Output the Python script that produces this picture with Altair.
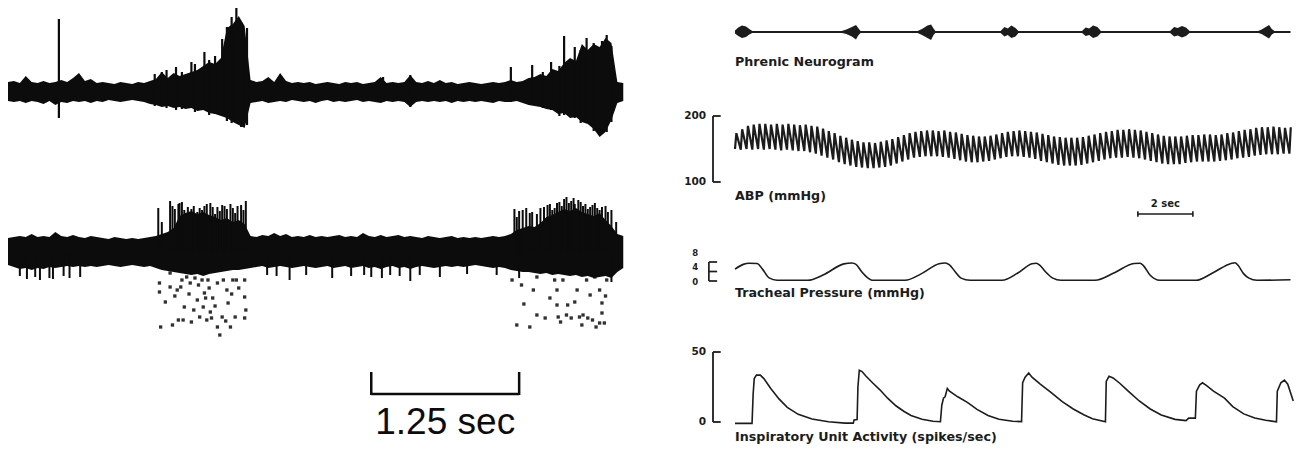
import altair as alt
import numpy as np
import pandas as pd

# ======================= DATA =======================
# ---- Left panel: two extracellular recordings (time in s, amplitude in arbitrary units)
left_step = 0.05  # sampling step of the envelopes (s)
top_upper = [1.0,1.1,0.9,1.6,1.0,0.9,1.1,0.9,1.0,1.2,
             1.0,1.4,1.9,1.1,1.3,0.9,1.0,0.9,0.8,1.0,
             0.9,0.8,1.0,0.9,1.1,1.3,2.0,1.4,1.9,1.6,
             1.8,2.0,2.2,2.6,3.0,2.8,3.4,6.4,6.8,7.6,
             6.6,1.2,1.0,1.1,1.5,1.0,1.9,1.1,0.9,1.0,
             0.9,1.0,0.8,0.9,1.0,0.9,0.8,1.0,0.9,1.0,
             0.8,0.9,1.0,1.5,0.9,1.0,0.9,1.0,1.7,1.0,
             0.9,1.1,0.9,1.2,0.9,1.0,0.8,0.9,1.0,0.9,
             0.8,0.9,1.0,0.9,1.0,1.2,1.0,1.1,1.4,1.5,
             1.8,1.6,2.3,2.1,2.9,3.4,3.1,4.8,4.2,4.8,
             4.5,5.4,4.9,1.0,0.9]
top_lower = [-0.9,-1.0,-0.9,-1.1,-0.9,-1.0,-1.2,-0.9,-1.3,-1.0,
             -1.1,-0.9,-1.0,-0.9,-1.1,-0.9,-1.0,-0.8,-0.9,-1.0,
             -0.9,-0.8,-0.9,-1.0,-1.2,-1.3,-1.5,-1.4,-1.6,-1.5,
             -1.7,-1.6,-1.9,-1.8,-2.1,-2.2,-2.4,-2.6,-3.0,-3.3,
             -3.6,-1.1,-1.0,-0.9,-1.1,-1.0,-0.9,-1.0,-0.8,-0.9,
             -1.0,-0.9,-1.1,-0.9,-0.8,-1.0,-0.9,-1.0,-0.9,-0.8,
             -1.0,-0.9,-1.0,-1.1,-0.9,-1.0,-0.9,-1.0,-1.5,-1.0,
             -0.9,-1.0,-0.9,-1.0,-0.9,-1.1,-0.9,-1.0,-0.9,-1.0,
             -0.9,-1.0,-1.1,-0.9,-1.0,-1.0,-0.9,-1.1,-1.3,-1.4,
             -1.5,-1.7,-1.8,-2.2,-2.1,-2.6,-2.5,-3.0,-3.2,-3.7,
             -4.5,-4.0,-2.8,-1.1,-0.9]
top_spike_t = [0.43,1.24,1.30,1.34,1.42,1.47,1.55,1.58,1.66,1.70,1.75,1.81,1.85,1.89,1.93,1.97,2.02,
               3.17,3.40,4.25,4.43,4.52,4.59,4.66,4.70,4.79,4.84,4.89,4.95,5.02,5.06,5.10]
top_spike_hi = [7.3,1.8,2.0,2.2,2.5,2.0,3.0,2.8,4.0,3.2,3.6,5.3,6.5,7.5,8.5,7.0,6.4,
                1.5,1.7,2.5,2.7,2.0,3.0,2.6,5.6,4.5,4.2,5.4,4.9,5.1,5.7,4.6]
top_spike_lo = [-2.6,-1.4,-1.2,-1.6,-1.8,-1.7,-1.6,-2.0,-1.8,-2.3,-2.2,-2.4,-2.9,-3.1,-3.0,-3.5,-3.3,
                -1.0,-1.5,-1.0,-1.3,-1.6,-1.8,-2.4,-2.3,-2.6,-3.1,-3.0,-3.9,-4.2,-4.0,-3.0]

bot_upper = [1.4,1.5,1.6,1.5,1.8,1.5,1.6,1.5,2.0,1.6,
             1.5,1.7,1.5,1.4,1.6,1.5,1.4,1.3,1.5,1.4,
             1.3,1.4,1.3,1.4,1.5,1.6,1.8,2.0,2.4,3.6,
             3.9,4.1,3.8,4.0,3.7,3.5,3.2,3.4,3.0,3.2,
             2.8,1.6,1.5,1.7,1.6,1.9,1.6,1.8,1.5,1.6,
             1.5,1.7,1.5,1.6,1.5,1.6,1.7,1.5,1.6,1.5,
             1.9,1.6,1.5,1.7,1.5,1.6,1.7,1.5,1.6,1.5,
             1.4,1.6,1.5,1.4,1.5,1.6,1.4,1.5,1.4,1.5,
             1.4,1.5,1.6,1.5,1.6,1.8,2.2,2.4,2.6,2.5,
             2.9,3.5,3.7,4.0,4.3,4.1,4.4,4.0,3.8,3.6,
             3.9,3.2,2.6,1.8,1.6]
bot_lower = [-1.3,-1.5,-1.7,-1.6,-1.8,-1.6,-1.7,-1.5,-1.6,-1.5,
             -1.4,-1.5,-1.4,-1.5,-1.4,-1.5,-1.4,-1.3,-1.4,-1.5,
             -1.4,-1.3,-1.4,-1.5,-1.4,-1.6,-1.8,-1.9,-2.0,-2.1,
             -2.2,-2.3,-2.2,-2.4,-2.2,-2.1,-2.0,-1.9,-1.8,-1.8,
             -1.7,-1.6,-1.5,-1.4,-1.6,-1.5,-1.4,-1.5,-1.6,-1.5,
             -1.4,-1.5,-1.6,-1.5,-1.4,-1.6,-1.5,-1.4,-1.6,-1.5,
             -1.4,-1.6,-1.5,-1.7,-1.5,-1.4,-1.6,-1.5,-1.7,-1.5,
             -1.4,-1.5,-1.6,-1.5,-1.4,-1.5,-1.4,-1.5,-1.4,-1.3,
             -1.4,-1.5,-1.6,-1.5,-1.6,-1.8,-1.9,-2.0,-2.0,-2.1,
             -2.2,-2.1,-2.3,-2.2,-2.3,-2.4,-2.3,-2.5,-2.4,-2.6,
             -2.5,-2.4,-2.6,-2.0,-1.6]
bot_burst_t = [1.27,1.30,1.37,1.39,1.41,1.44,1.45,1.47,1.49,1.52,1.55,1.57,1.60,1.62,1.64,1.66,1.68,1.71,1.73,
               1.75,1.77,1.79,1.81,1.83,1.85,1.88,1.90,1.92,1.94,1.97,1.99,2.01,
               4.28,4.30,4.32,4.35,4.38,4.41,4.43,4.47,4.50,4.53,4.56,4.58,4.60,4.62,4.64,4.66,4.68,4.70,
               4.72,4.74,4.76,4.78,4.79,4.82,4.84,4.86,4.88,4.90,4.92,4.94,4.96,4.98,5.00,5.02,5.05,5.07,
               5.10,5.14]
bot_burst_hi = [4.4,3.0,5.1,4.6,4.3,4.8,4.9,5.0,4.2,4.5,4.3,4.6,4.0,4.4,4.2,4.6,4.8,4.9,4.5,
                3.8,4.5,4.1,4.7,4.6,4.3,4.8,4.4,3.9,4.6,4.7,4.2,5.1,
                4.3,3.5,4.1,4.2,4.4,3.9,4.0,3.8,4.4,4.5,4.7,4.8,4.2,4.4,4.9,5.0,4.6,5.3,
                5.5,4.9,5.1,5.4,4.8,5.2,5.0,4.6,4.8,4.3,4.5,4.7,4.9,4.4,4.2,4.5,4.6,4.0,
                4.2,3.0]
bot_down_t = [0.10,0.16,0.23,0.27,0.35,0.38,0.47,0.52,0.61,2.19,2.27,2.38,2.52,
              2.74,2.90,3.01,3.07,3.16,3.23,3.31,3.40,3.48,3.65,3.88,4.13,4.32,5.10]
bot_down_lo = [-2.4,-2.7,-2.5,-2.8,-2.6,-2.7,-2.4,-2.6,-2.5,-2.3,-2.4,-2.8,-2.3,
               -2.6,-2.4,-2.3,-2.5,-2.6,-2.3,-2.4,-2.9,-2.3,-2.5,-2.2,-2.3,-2.6,-3.0]
dot_t = [1.28,1.28,1.29,1.37,1.37,1.39,1.43,1.44,1.47,1.48,1.49,1.51,1.54,1.55,1.58,1.60,1.62,1.64,1.65,1.66,
         1.68,1.69,1.71,1.72,1.73,1.77,1.77,1.79,1.81,1.82,1.85,1.86,1.88,1.90,1.92,1.93,2.00,2.00,2.01,2.00,
         1.33,1.41,1.46,1.53,1.57,1.61,1.67,1.70,1.75,1.84,1.89,1.95,
         4.26,4.30,4.34,4.41,4.47,4.47,4.54,4.62,4.64,4.64,4.65,4.69,4.72,4.73,4.76,4.81,4.83,4.86,4.89,4.90,
         4.92,4.96,4.97,5.00,5.02,5.02,5.03,5.04,5.06,
         4.36,4.44,4.58,4.67,4.79,4.85,4.94,5.00,5.05]
dot_v = [-3.1,-4.0,-7.5,-2.1,-3.5,-7.3,-3.8,-6.8,-2.8,-6.8,-5.5,-2.5,-3.1,-7.0,-2.6,-4.8,-6.5,-2.8,-5.5,-4.1,
         -6.8,-2.8,-6.0,-6.6,-4.6,-3.1,-7.5,-8.3,-6.5,-2.8,-3.8,-5.1,-7.5,-2.8,-6.5,-2.8,-2.8,-4.5,-5.8,-6.6,
         -5.0,-4.4,-3.5,-4.2,-5.8,-3.3,-4.6,-3.6,-5.4,-6.9,-4.2,-3.6,
         -2.8,-7.3,-3.3,-7.5,-2.5,-6.3,-6.6,-2.8,-3.8,-5.3,-6.5,-2.8,-6.3,-5.3,-6.6,-3.8,-6.5,-6.3,-2.8,-6.6,
         -4.3,-2.5,-7.5,-3.8,-5.1,-6.1,-2.1,-7.1,-2.8,
         -5.2,-3.8,-4.6,-7.0,-5.0,-7.3,-6.8,-7.1,-4.4]
left_bar_start = 3.07
left_bar_sec = 1.25
left_bar_label = "1.25 sec"

# ---- Right panel (time in s)
phr_burst = [1]*6 + [2]*6 + [3]*6 + [4]*6 + [5]*6 + [6]*6 + [7]*6
phr_t = [0.00,0.12,0.25,0.40,0.52,0.66, 3.82,4.05,4.25,4.40,4.48,4.58, 6.60,6.80,7.00,7.13,7.22,7.30,
         9.64,9.80,9.92,10.05,10.20,10.32, 12.60,12.75,12.88,13.02,13.18,13.32,
         15.80,15.97,16.10,16.25,16.40,16.55, 18.98,19.15,19.30,19.42,19.52,19.64]
phr_hi = [1.5,4.5,6.5,5.5,3.0,0.6, 0.6,2.5,5.0,7.0,4.0,0.6, 0.6,3.0,6.5,7.5,3.5,0.6,
          0.6,5.0,3.5,6.5,4.0,0.6, 0.6,4.5,3.5,6.5,5.0,0.6, 0.6,5.0,4.0,6.0,4.5,0.6,
          0.6,2.5,5.0,7.0,3.0,0.6]
phr_lo = [-1.5,-4.0,-6.0,-5.0,-2.5,-0.6, -0.6,-2.0,-4.5,-7.5,-3.5,-0.6, -0.6,-3.0,-6.0,-8.0,-3.0,-0.6,
          -0.6,-4.5,-3.0,-6.0,-4.5,-0.6, -0.6,-4.0,-3.0,-6.0,-4.5,-0.6, -0.6,-4.5,-3.5,-5.5,-4.0,-0.6,
          -0.6,-2.0,-4.5,-6.5,-2.5,-0.6]
phr_end = 20.2

abp_beat_interval = 0.21
abp_sys = [174,180,185,187,188,188,187,188,187,188,
           187,186,187,185,184,181,177,174,170,167,
           164,162,160,160,159,161,163,165,168,171,
           174,176,177,178,178,177,178,176,175,173,
           171,170,169,169,170,172,174,176,177,178,
           177,176,175,173,171,169,168,167,167,167,
           168,170,172,174,176,177,179,179,180,179,
           178,176,174,172,170,169,169,169,170,171,
           171,172,172,171,172,174,175,177,179,180,
           182,183,183,184,183,182,183]
abp_dia = [150,149,150,149,150,149,150,149,148,149,
           148,147,147,145,143,140,137,134,130,127,
           125,123,122,121,121,122,123,125,128,131,
           134,137,138,139,139,139,138,137,135,133,
           131,130,130,131,132,134,136,138,139,139,
           138,137,135,132,130,128,126,125,125,125,
           126,128,130,132,134,136,137,137,138,137,
           136,134,132,130,128,127,127,127,129,130,
           131,131,131,131,132,133,134,136,137,138,
           140,141,142,142,142,143,143]
abp_ticks = [100, 200]

trach_t = [0.0,0.3,0.51,0.8,1.0,1.24,1.53,2.65,3.2,3.96,4.25,4.4,4.6,4.84,4.98,6.18,6.8,7.42,7.64,7.8,8.0,8.22,8.55,
           9.71,10.3,10.8,10.95,11.1,11.3,11.56,11.85,13.09,13.8,14.51,14.73,14.85,15.09,15.45,
           16.76,17.4,18.04,18.18,18.3,18.5,18.69,18.98,20.2]
trach_v = [5.0,7.0,7.5,7.4,5.0,1.3,0.3,0.3,2.5,7.2,7.6,7.0,4.0,1.2,0.3,0.3,3.2,7.3,7.6,6.8,4.0,1.2,0.3,
           0.3,3.5,7.3,7.5,6.5,3.8,1.2,0.3,0.3,3.5,7.4,7.5,6.5,2.5,0.3,
           0.3,3.6,7.4,7.7,6.5,3.0,1.2,0.3,0.5]
trach_ticks = [0, 4, 8]

insp_t = [0,0.62,0.66,0.70,0.78,0.92,1.05,1.3,1.6,1.9,
          2.3,2.8,3.4,4.0,4.3,4.33,4.44,4.47,4.52,4.62,
          4.75,5.0,5.27,5.55,5.85,6.15,6.4,6.8,7.2,7.47,
          7.52,7.58,7.64,7.72,7.8,8.1,8.45,8.8,9.2,9.6,
          10.1,10.42,10.46,10.55,10.68,10.8,11.1,11.5,11.9,12.3,
          12.7,13.0,13.47,13.5,13.6,13.75,14.0,14.3,14.7,15.1,
          15.5,16.0,16.4,16.5,16.74,16.78,16.9,17.0,17.15,17.4,
          17.8,18.1,18.5,18.9,19.3,19.69,19.72,19.85,19.98,20.1,
          20.3]
insp_v = [-1,-1,20,31,33.5,33.5,31,24,16.5,10.5,
          5.5,2.2,0.2,-0.8,-0.8,1.5,1.8,25,37,36,
          33,28,23,17,11.6,7.5,4.7,2.0,0.5,0.2,
          12,17,18,24,22,18,14,9,4.6,2.0,
          0.5,0.3,28,32,35,32,27,21,14.5,9.3,
          5,2.3,0.2,29,32.6,31.5,27.5,22,15,9.3,
          5,1.9,1.0,2.8,2.8,22,26.5,28,26,22,
          17,11,5.8,2.8,1.2,0.2,22,28,30,27,
          15]
insp_ticks = [0, 50]

right_bar_start = 14.65
right_bar_sec = 2
right_bar_label = "2 sec"
label_phr = "Phrenic Neurogram"
label_abp = "ABP (mmHg)"
label_trach = "Tracheal Pressure (mmHg)"
label_insp = "Inspiratory Unit Activity (spikes/sec)"

# ======================= LAYOUT / STYLE =======================
INK = "#0c0c0c"
INK_R = "#1c1c1c"
FONT_R = "DejaVu Sans"
FONT_L = "Liberation Sans"
LAB = 12.7
NUM = 10.5


def S(domain, rng):
    return alt.Scale(domain=domain, range=rng, nice=False, zero=False)


LX = S([0, 5.24], [0, 620])
TY = S([-5, 9], [134, -6])
BY = S([-20, 6], [444, 184])
RX = S([0, 20.4], [727, 1288])
PY = S([-40, 10], [64, 14])
AY = S([100, 200], [174, 108])
TRY = S([0, 8], [273, 254])
IY = S([0, 50], [414, 344])


def X(sc, f="t"):
    return alt.X(f"{f}:Q", scale=sc, axis=None)


def Y(sc, f="v"):
    return alt.Y(f"{f}:Q", scale=sc, axis=None)


def label_layer(df, sc_y, size, align="left", weight="bold", font=FONT_R):
    return alt.Chart(df).mark_text(font=font, fontSize=size, fontWeight=weight, color=INK_R,
                                   align=align, baseline="middle").encode(
        x=X(RX), y=Y(sc_y), text="label:N")


layers = []

# ---------- left top trace ----------
grid = np.round(np.arange(len(top_upper)) * left_step, 2)
df_top = pd.DataFrame({"t": grid, "hi": top_upper, "lo": top_lower})
layers.append(alt.Chart(df_top).mark_area(color=INK).encode(
    x=X(LX), y=Y(TY, "hi"), y2=alt.Y2("lo")))
df_ts = pd.DataFrame({"t": top_spike_t, "hi": top_spike_hi, "lo": top_spike_lo})
layers.append(alt.Chart(df_ts).mark_rule(color=INK, strokeWidth=2.2).encode(
    x=X(LX), y=Y(TY, "hi"), y2=alt.Y2("lo")))

# ---------- left bottom trace ----------
df_bot = pd.DataFrame({"t": grid, "hi": bot_upper, "lo": bot_lower})
layers.append(alt.Chart(df_bot).mark_area(color=INK).encode(
    x=X(LX), y=Y(BY, "hi"), y2=alt.Y2("lo")))
df_bb = pd.DataFrame({"t": bot_burst_t, "hi": bot_burst_hi})
df_bb["lo"] = 0.0
layers.append(alt.Chart(df_bb).mark_rule(color=INK, strokeWidth=2.0).encode(
    x=X(LX), y=Y(BY, "hi"), y2=alt.Y2("lo")))
df_bd = pd.DataFrame({"t": bot_down_t, "lo": bot_down_lo})
df_bd["hi"] = 0.0
layers.append(alt.Chart(df_bd).mark_rule(color=INK, strokeWidth=2.0).encode(
    x=X(LX), y=Y(BY, "hi"), y2=alt.Y2("lo")))
df_dots = pd.DataFrame({"t": dot_t, "v": dot_v})
layers.append(alt.Chart(df_dots).mark_square(color=INK, size=11, opacity=0.85).encode(
    x=X(LX), y=Y(BY)))

# ---------- left scale bar ----------
df_lbar = pd.DataFrame({"t0": [left_bar_start], "t1": [left_bar_start + left_bar_sec], "v": [-14.2]})
layers.append(alt.Chart(df_lbar).mark_rule(color=INK, strokeWidth=2.5).encode(
    x=X(LX, "t0"), x2=alt.X2("t1"), y=Y(BY)))
df_lticks = pd.DataFrame({"t": [left_bar_start, left_bar_start + left_bar_sec], "hi": [-12.0, -12.0], "lo": [-14.3, -14.3]})
layers.append(alt.Chart(df_lticks).mark_rule(color=INK, strokeWidth=2.5).encode(
    x=X(LX), y=Y(BY, "hi"), y2=alt.Y2("lo")))
df_ltext = pd.DataFrame({"t": [left_bar_start + left_bar_sec / 2], "v": [-18.2], "label": [left_bar_label]})
layers.append(alt.Chart(df_ltext).mark_text(font=FONT_L, fontSize=37, color=INK, align="center",
                                            baseline="alphabetic").encode(
    x=X(LX), y=Y(BY), text="label:N"))

# ---------- phrenic neurogram ----------
df_pbase = pd.DataFrame({"t0": [0.0], "t1": [phr_end], "v": [0.0]})
layers.append(alt.Chart(df_pbase).mark_rule(color=INK_R, strokeWidth=1.8).encode(
    x=X(RX, "t0"), x2=alt.X2("t1"), y=Y(PY)))
df_phr = pd.DataFrame({"b": phr_burst, "t": phr_t, "hi": phr_hi, "lo": phr_lo})
layers.append(alt.Chart(df_phr).mark_area(color=INK_R).encode(
    x=X(RX), y=Y(PY, "hi"), y2=alt.Y2("lo"), detail="b:N"))
layers.append(label_layer(pd.DataFrame({"t": [0.0], "v": [-30.0], "label": [label_phr]}), PY, LAB))

# ---------- ABP ----------
beat_t = np.arange(len(abp_sys)) * abp_beat_interval
rows = []
for i, (s, d) in enumerate(zip(abp_sys, abp_dia)):
    rows.append({"t": beat_t[i], "v": d, "o": 2 * i})
    rows.append({"t": beat_t[i] + 0.05, "v": s, "o": 2 * i + 1})
df_abp = pd.DataFrame(rows)
layers.append(alt.Chart(df_abp).mark_line(color=INK_R, strokeWidth=2.2).encode(
    x=X(RX), y=Y(AY), order="o:Q"))
df_abr = pd.DataFrame({"t": [-0.80], "lo": [abp_ticks[0]], "hi": [abp_ticks[1]]})
layers.append(alt.Chart(df_abr).mark_rule(color=INK_R, strokeWidth=1.8).encode(
    x=X(RX), y=Y(AY, "hi"), y2=alt.Y2("lo")))
df_abt = pd.DataFrame({"t0": [-0.80, -0.80], "t1": [-0.52, -0.52], "v": abp_ticks,
                       "label": [str(v) for v in abp_ticks]})
layers.append(alt.Chart(df_abt).mark_rule(color=INK_R, strokeWidth=1.8).encode(
    x=X(RX, "t0"), x2=alt.X2("t1"), y=Y(AY)))
layers.append(label_layer(df_abt.assign(t=-1.05), AY, NUM, align="right"))
layers.append(label_layer(pd.DataFrame({"t": [0.0], "v": [79.0], "label": [label_abp]}), AY, LAB))
# 2 sec scale bar
df_rbar = pd.DataFrame({"t0": [right_bar_start], "t1": [right_bar_start + right_bar_sec], "v": [51.5]})
layers.append(alt.Chart(df_rbar).mark_rule(color=INK_R, strokeWidth=1.6).encode(
    x=X(RX, "t0"), x2=alt.X2("t1"), y=Y(AY)))
df_rticks = pd.DataFrame({"t": [right_bar_start, right_bar_start + right_bar_sec], "hi": [55.5, 55.5], "lo": [47.5, 47.5]})
layers.append(alt.Chart(df_rticks).mark_rule(color=INK_R, strokeWidth=1.6).encode(
    x=X(RX), y=Y(AY, "hi"), y2=alt.Y2("lo")))
layers.append(label_layer(pd.DataFrame({"t": [right_bar_start + right_bar_sec / 2], "v": [66.5],
                                        "label": [right_bar_label]}), AY, 10, align="center"))

# ---------- tracheal pressure ----------
df_tr = pd.DataFrame({"t": trach_t, "v": trach_v})
layers.append(alt.Chart(df_tr).mark_line(color=INK_R, strokeWidth=1.6, interpolate="monotone").encode(
    x=X(RX), y=Y(TRY)))
df_trb = pd.DataFrame({"t": [-0.95], "lo": [trach_ticks[0]], "hi": [trach_ticks[-1]]})
layers.append(alt.Chart(df_trb).mark_rule(color=INK_R, strokeWidth=1.7).encode(
    x=X(RX), y=Y(TRY, "hi"), y2=alt.Y2("lo")))
df_trt = pd.DataFrame({"t0": [-0.95] * 3, "t1": [-0.65] * 3, "v": trach_ticks})
layers.append(alt.Chart(df_trt).mark_rule(color=INK_R, strokeWidth=1.7).encode(
    x=X(RX, "t0"), x2=alt.X2("t1"), y=Y(TRY)))
layers.append(label_layer(pd.DataFrame({"t": [-1.45] * 3, "v": [-0.4, 5.9, 11.8],
                                        "label": [str(v) for v in trach_ticks]}), TRY, 8.5, align="center"))
layers.append(label_layer(pd.DataFrame({"t": [0.0], "v": [-5.05], "label": [label_trach]}), TRY, LAB))

# ---------- inspiratory unit activity ----------
df_in = pd.DataFrame({"t": insp_t, "v": insp_v})
layers.append(alt.Chart(df_in).mark_line(color=INK_R, strokeWidth=1.6).encode(
    x=X(RX), y=Y(IY)))
df_inb = pd.DataFrame({"t": [-0.80], "lo": [insp_ticks[0]], "hi": [insp_ticks[1]]})
layers.append(alt.Chart(df_inb).mark_rule(color=INK_R, strokeWidth=1.8).encode(
    x=X(RX), y=Y(IY, "hi"), y2=alt.Y2("lo")))
df_int = pd.DataFrame({"t0": [-0.80, -0.80], "t1": [-0.52, -0.52], "v": insp_ticks,
                       "label": [str(v) for v in insp_ticks]})
layers.append(alt.Chart(df_int).mark_rule(color=INK_R, strokeWidth=1.8).encode(
    x=X(RX, "t0"), x2=alt.X2("t1"), y=Y(IY)))
layers.append(label_layer(df_int.assign(t=-1.05), IY, NUM, align="right"))
layers.append(label_layer(pd.DataFrame({"t": [0.0], "v": [-10.7], "label": [label_insp]}), IY, LAB))

chart = (
    alt.layer(*layers)
    .resolve_scale(x="independent", y="independent")
    .properties(width=1286, height=436, padding=0, autosize=alt.AutoSizeParams(type="none"))
    .configure(background="white")
    .configure_view(stroke=None)
)

chart.save("out.html", embed_options={"renderer": "svg", "actions": False})
